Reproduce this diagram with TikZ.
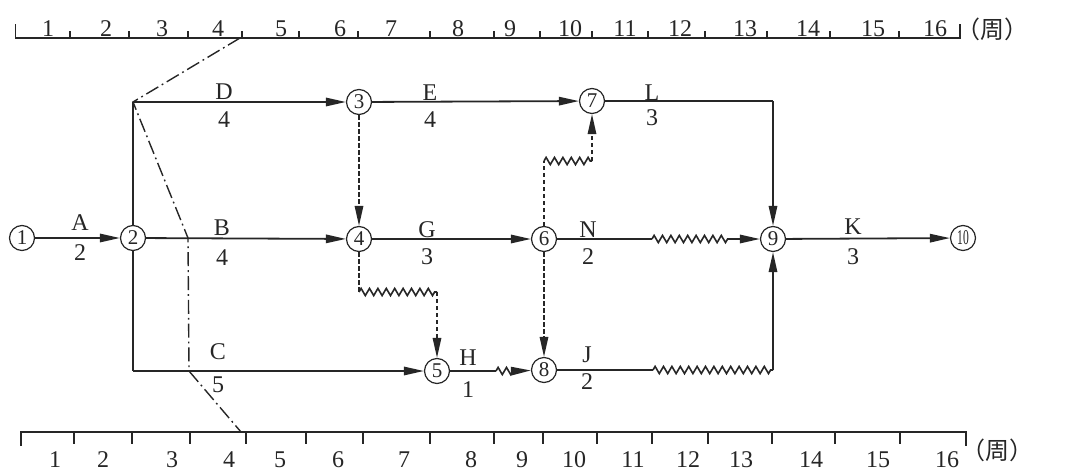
\documentclass[tikz,border=0pt]{standalone}
\usepackage{fontspec}
\setmainfont{Liberation Serif}
\newfontfamily\cjk{Noto Sans CJK SC}
\usetikzlibrary{
arrows.meta,
decorations.pathmorphing,
calc
}
\definecolor{NetInk}{HTML}{262626}
\tikzset{
netev/.style={draw=NetInk, circle, inner sep=0pt, minimum size=12.5pt, line width=0.6pt,
  font=\fontsize{10.5}{10.5}\selectfont, text=NetInk},
netact/.style={-{Triangle[length=10pt,width=4.2pt]}, line width=0.9pt, draw=NetInk},
netseg/.style={line width=0.9pt, draw=NetInk},
netdummy/.style={-{Triangle[length=10pt,width=4.2pt]}, line width=0.9pt, draw=NetInk,
  dash pattern=on 2.2pt off 1.3pt},
netdummyseg/.style={line width=0.9pt, draw=NetInk, dash pattern=on 2.2pt off 1.3pt},
netfree/.style={line width=0.8pt, draw=NetInk, decorate,
  decoration={zigzag, amplitude=1.8pt, segment length=4.2pt}},
netfront/.style={line width=0.7pt, draw=NetInk, dash pattern=on 7pt off 2pt on 0.9pt off 2pt},
netlbl/.style={font=\fontsize{12}{13}\selectfont, text=NetInk, inner sep=0pt},
netscale/.style={line width=0.8pt, draw=NetInk}
}

\begin{document}
\begin{tikzpicture}[x=0.5pt, y=-0.5pt]
\useasboundingbox (0,0) rectangle (1082,471);

\node[netev] (n1) at (22,238) {1};
\node[netev] (n2) at (133,238) {2};
\node[netev] (n3) at (359,102) {3};
\node[netev] (n4) at (359,239) {4};
\node[netev] (n5) at (437,371) {5};
\node[netev] (n6) at (544,239) {6};
\node[netev] (n7) at (592,101) {7};
\node[netev] (n8) at (544,370) {8};
\node[netev] (n9) at (773,239) {9};
\node[netev] (n10) at (963,238) {\scalebox{0.55}[1]{10}};

\coordinate (cD) at (133,102);
\coordinate (cC) at (133,371);
\coordinate (cL) at (773,101);
\coordinate (w1a) at (359,292);
\coordinate (w1b) at (437,292);
\coordinate (w2a) at (544,161);
\coordinate (w2b) at (592,161);
\coordinate (w3a) at (652,239);
\coordinate (w3b) at (730,239);
\coordinate (w4a) at (496,371);
\coordinate (w4b) at (515,371);
\coordinate (w5a) at (653,370);
\coordinate (w5b) at (773,370);

\foreach \a/\b in {n1/n2,cD/n3,n2/n4,cC/n5,n3/n7,n4/n6,cL/n9,n9/n10,w3b/n9,w4b/n8,w5b/n9}
\draw[netact] (\a) -- (\b);
\foreach \a/\b in {n2/cD,n2/cC,n7/cL,n6/w3a,n5/w4a,n8/w5a}
\draw[netseg] (\a) -- (\b);
\foreach \a/\b in {n3/n4,n6/n8,w1b/n5,w2b/n7}
\draw[netdummy] (\a) -- (\b);
\foreach \a/\b in {n4/w1a,n6/w2a}
\draw[netdummyseg] (\a) -- (\b);
\foreach \a/\b in {w1a/w1b,w2a/w2b,w3a/w3b,w4a/w4b,w5a/w5b}
\draw[netfree] (\a) -- (\b);

\foreach \nm/\x/\ya/\yb/\dur in {A/80/223/253/2, D/224/92/120/4, B/222/228/258/4, C/218/352/385/5,
  E/430/93/120/4, G/427/230/257/3, L/652/93/118/3, N/588/230/257/2,
  H/468/358/390/1, J/587/355/382/2, K/853/227/257/3}{
\node[netlbl] (t\nm) at (\x,\ya) {\nm};
\node[netlbl] (d\nm) at (\x,\yb) {\dur};
}

% time scales
\draw[netscale] (15.5,24) -- (15.5,38) -- (960,38) -- (960,24);
\foreach \x in {70,129,188,242,299,358,430,494,540,592,648,705,767,830,899}
\draw[netscale] (\x,38) -- (\x,31);
\foreach \x [count=\i] in {48,106,162,218,281,340,391,458,510,570,625,680,745,808,873,935}
\node[netlbl] (up\i) at (\x,29) {\i};
\node[netlbl] (upunit) at (992,29) {\cjk （周）};

\draw[netscale] (21,446) -- (21,432) -- (966,432) -- (966,446);
\foreach \x in {74,132,190,246,306,363,430,494,543,597,652,708,772,835,900}
\draw[netscale] (\x,432) -- (\x,444);
\foreach \x [count=\i] in {55,103,172,229,280,338,404,471,522,574,633,688,741,811,878,947}
\node[netlbl] (lo\i) at (\x,460) {\i};
\node[netlbl] (lounit) at (997,450) {\cjk （周）};

% front line
\coordinate (fT) at (240,38);
\coordinate (fB) at (188,238);
\coordinate (fC) at (189,371);
\coordinate (fL) at (241,432);
\draw[netfront] (fT) -- (cD) -- (fB) -- (fC) -- (fL);
\end{tikzpicture}
\end{document}
